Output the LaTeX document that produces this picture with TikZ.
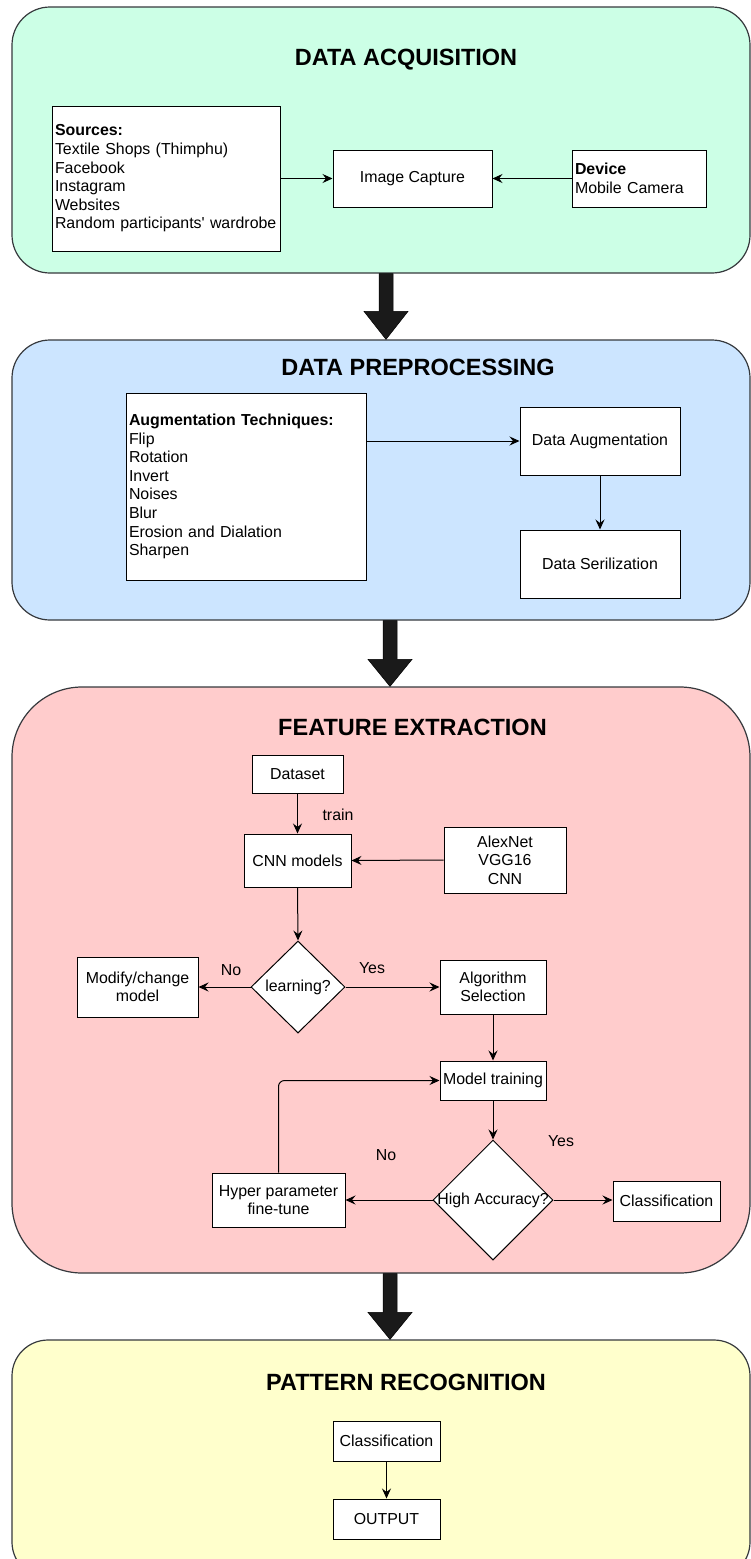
\documentclass[tikz,border=0pt]{standalone}
\usepackage{fontspec}
\setmainfont{Liberation Sans}
\usetikzlibrary{arrows.meta,shapes.geometric,calc}
\definecolor{acqfill}{HTML}{CCFFE6}
\definecolor{prefill}{HTML}{CCE5FF}
\definecolor{fefill}{HTML}{FFCCCC}
\definecolor{prfill}{HTML}{FFFFCC}
\definecolor{edgecol}{HTML}{36393D}
\definecolor{bigcol}{HTML}{1A1A1A}
\newcommand\bodyfont{\fontsize{15.9}{18.6}\selectfont}
\newcommand\titlefont{\fontsize{23.5}{27}\selectfont\bfseries}
\newcommand\bigconn[3]{% start, end, head length
  \fill[bigcol, draw=black, line width=0.5pt]
    ($(#1)+(-7,0)$) -- ($(#2)+(-7,-#3)$) -- ($(#2)+(-22,-#3)$) -- (#2)
    -- ($(#2)+(22,-#3)$) -- ($(#2)+(7,-#3)$) -- ($(#1)+(7,0)$) -- cycle;}
\tikzset{
  stage/.style={draw=edgecol, line width=1.2pt, inner sep=0pt},
  box/.style={draw=black, fill=white, line width=1pt, inner sep=3pt, font=\bodyfont, align=center},
  dia/.style={diamond, draw=black, fill=white, line width=1pt, inner sep=0pt},
  conn/.style={draw=black, line width=1pt, -{Stealth[length=10pt,width=9pt,inset=3.5pt]}},
  titletext/.style={font=\titlefont, inner sep=0pt},
  lbl/.style={font=\bodyfont, inner sep=0pt},
}
\begin{document}
\begin{tikzpicture}[x=1pt,y=-1pt]
\clip (0,0) rectangle (751,1559);
% stages
\node[stage, fill=acqfill, rounded corners=38pt, minimum width=738pt, minimum height=266pt] (acq) at (381,140) {};
\node[stage, fill=prefill, rounded corners=38pt, minimum width=738pt, minimum height=280pt] (pre) at (381,480) {};
\node[stage, fill=fefill, rounded corners=70pt, minimum width=738pt, minimum height=586pt] (fe) at (381,980) {};
\node[stage, fill=prfill, rounded corners=36pt, minimum width=738pt, minimum height=238pt] (pr) at (381,1459) {};
% titles
\node[titletext] (t1) at (406,60) {DATA ACQUISITION};
\node[titletext] (t2) at (418,367) {DATA PREPROCESSING};
\node[titletext] (t3) at (412.5,727) {FEATURE EXTRACTION};
\node[titletext] (t4) at (406,1382) {PATTERN RECOGNITION};
% big arrows
\coordinate (b1s) at ([xshift=5pt]acq.south);
\coordinate (b1e) at ([xshift=5pt]pre.north);
\coordinate (b2s) at ([xshift=9pt]pre.south);
\coordinate (b2e) at ([xshift=9pt]fe.north);
\coordinate (b3s) at ([xshift=9pt]fe.south);
\coordinate (b3e) at ([xshift=9pt]pr.north);
\bigconn{b1s}{b1e}{28}
\bigconn{b2s}{b2e}{27}
\bigconn{b3s}{b3e}{27}
% data acquisition
\node[box, align=left, text width=222pt, minimum height=145pt] (src) at (166,178.5)
  {\textbf{Sources:}\\Textile Shops (Thimphu)\\Facebook\\Instagram\\Websites\\Random participants\textquotesingle{} wardrobe};
\node[box, minimum width=159pt, minimum height=57pt] (ic) at (412.5,178.5) {Image Capture};
\node[box, align=left, text width=128pt, minimum height=57pt] (dev) at (639,178.5) {\textbf{Device}\\Mobile Camera};
\draw[conn] (src.east) -- (ic.west);
\draw[conn] (dev.west) -- (ic.east);
% data preprocessing
\node[box, align=left, text width=234pt, minimum height=187pt] (aug) at (246,486.5)
  {\textbf{Augmentation Techniques:}\\Flip\\Rotation\\Invert\\Noises\\Blur\\Erosion and Dialation\\Sharpen};
\node[box, minimum width=160pt, minimum height=68pt] (da) at (600,441) {Data Augmentation};
\node[box, minimum width=160pt, minimum height=68pt] (ds) at (600,564) {Data Serilization};
\draw[conn] (aug.east |- da.west) -- (da.west);
\draw[conn] (da.south) -- (ds.north);
% feature extraction
\node[box, minimum width=91pt, minimum height=38pt] (dset) at (297.5,774) {Dataset};
\node[box, minimum width=107pt, minimum height=53pt] (cnn) at (297.5,860.5) {CNN models};
\node[box, minimum width=122pt, minimum height=66pt] (alex) at (505,860) {AlexNet\\VGG16\\CNN};
\node[dia, minimum width=94pt, minimum height=92pt, label={[lbl]center:learning?}] (learn) at (298,987) {};
\node[box, minimum width=121pt, minimum height=60pt] (mod) at (137.5,987) {Modify/change\\model};
\node[box, minimum width=106pt, minimum height=54pt] (alg) at (493,987) {Algorithm\\Selection};
\node[box, minimum width=106pt, minimum height=39pt] (mt) at (493,1080.5) {Model training};
\node[dia, minimum width=120pt, minimum height=120pt, label={[lbl]center:High Accuracy?}] (ha) at (493,1200) {};
\node[box, minimum width=133pt, minimum height=54pt] (hp) at (278.5,1200) {Hyper parameter\\fine-tune};
\node[box, minimum width=107pt, minimum height=40pt] (cls) at (666.5,1201) {Classification};
\draw[conn] (dset.south) -- (cnn.north);
\draw[conn] (alex.west) -- (cnn.east);
\draw[conn] (cnn.south) -- (learn.north);
\draw[conn] (learn.west) -- (mod.east);
\draw[conn] (learn.east) -- (alg.west);
\draw[conn] (alg.south) -- (mt.north);
\draw[conn] (mt.south) -- (ha.north);
\draw[conn] (ha.west) -- (hp.east);
\draw[conn] (ha.east) -- (cls.west |- ha.east);
\draw[conn, rounded corners=6pt] (hp.north) |- (mt.west);
\node[lbl] (ltrain) at (338,815) {train};
\node[lbl] (lno1) at (231,970) {No};
\node[lbl] (lyes1) at (372,968) {Yes};
\node[lbl] (lyes2) at (561,1141) {Yes};
\node[lbl] (lno2) at (386,1155) {No};
% pattern recognition
\node[box, minimum width=107pt, minimum height=40pt] (pcls) at (386.5,1441) {Classification};
\node[box, minimum width=107pt, minimum height=40pt] (out) at (386.5,1519) {OUTPUT};
\draw[conn] (pcls.south) -- (out.north);
\end{tikzpicture}
\end{document}
